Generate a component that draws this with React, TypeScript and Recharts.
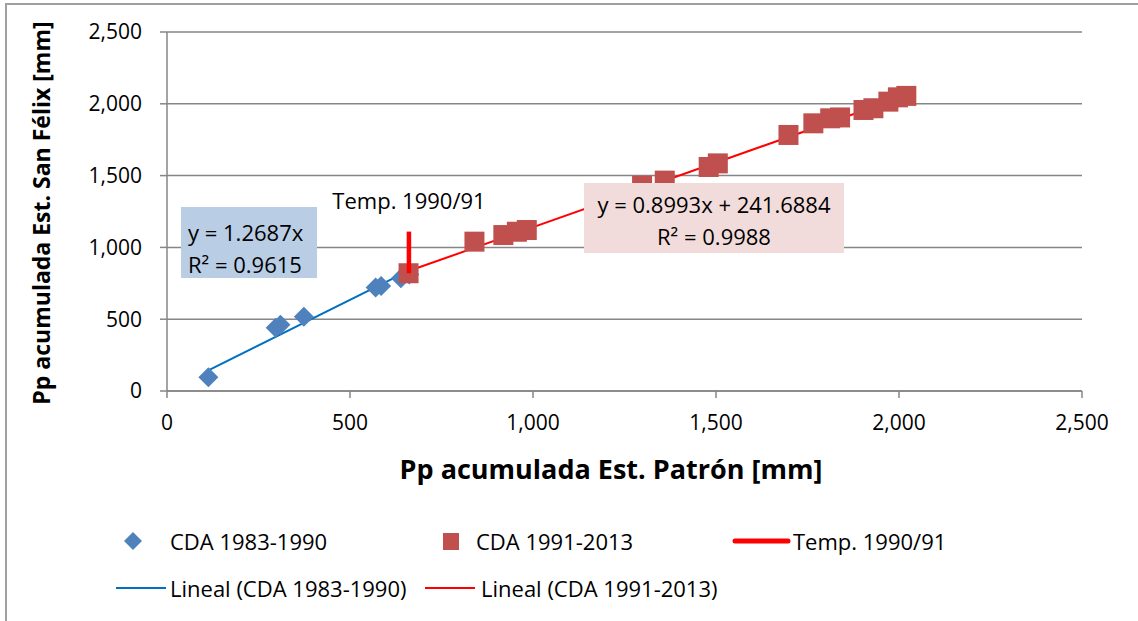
import React from 'react';
import { ScatterChart, Scatter, XAxis, YAxis, CartesianGrid } from 'recharts';

// CDA 1983-1990 (blue diamonds)
const cda8390X = [113, 297, 310, 374, 570, 585, 639, 662];
const cda8390Y = [95, 440, 462, 517, 720, 732, 785, 812];

// CDA 1991-2013 (red squares)
const cda9113X = [660, 840, 919, 956, 983, 1298, 1360, 1480, 1505, 1698, 1766, 1812, 1839, 1903, 1930, 1971, 1997, 2020];
const cda9113Y = [820, 1040, 1086, 1109, 1121, 1430, 1465, 1560, 1585, 1783, 1864, 1899, 1905, 1957, 1969, 2015, 2045, 2055];

// Temp. 1990/91 marker line
const tempX = [661, 661];
const tempY = [820, 1110];

// linear fits (slope, intercept)
const fit8390 = [1.2687, 0];
const fit9113 = [0.8993, 241.6884];

const ticks = [0, 500, 1000, 1500, 2000, 2500];

const font = '"Open Sans", sans-serif';
const BLUE = '#4f81bd';
const RED = '#c0504d';

const zip = (xs: number[], ys: number[]) => xs.map((x, i) => ({ x, y: ys[i] }));
const fitLine = (xs: number[], f: number[]) => {
  const lo = Math.min(...xs);
  const hi = Math.max(...xs);
  return [
    { x: lo, y: f[0] * lo + f[1] },
    { x: hi, y: f[0] * hi + f[1] },
  ];
};

const diamond = (p: any) => (
  <polygon
    points={`${p.cx},${p.cy - 10} ${p.cx + 10},${p.cy} ${p.cx},${p.cy + 10} ${p.cx - 10},${p.cy}`}
    fill={BLUE}
  />
);
const square = (p: any) => <rect x={p.cx - 10} y={p.cy - 10} width={20} height={20} fill={RED} />;
const none = () => <g />;

const fmt = (v: number) => v.toLocaleString('en-US');

const txt: React.CSSProperties = { position: 'absolute', fontFamily: font, fontSize: 22, color: '#000', whiteSpace: 'nowrap', lineHeight: 1 };

export default function App() {
  return (
    <div
      style={{
        position: 'absolute',
        left: 5,
        top: 3,
        width: 1133,
        height: 618,
        borderLeft: '2px solid #a0a0a0',
        borderTop: '2px solid #a0a0a0',
        boxSizing: 'border-box',
        overflow: 'hidden',
        background: '#fff',
      }}
    >
      <div style={{ position: 'absolute', left: -1, top: -1 }}>
        <ScatterChart width={1130} height={500} margin={{ top: 28, right: 54, bottom: 0, left: 0 }}>
          <CartesianGrid vertical={false} stroke="#868686" strokeWidth={1.5} />
          <XAxis
            type="number"
            dataKey="x"
            domain={[0, 2500]}
            ticks={ticks}
            tickFormatter={fmt}
            height={113}
            stroke="#868686"
            strokeWidth={1.5}
            tickSize={7}
            tickMargin={17}
            tick={{ fill: '#000', fontSize: 21, fontFamily: font }}
          />
          <YAxis
            type="number"
            dataKey="y"
            domain={[0, 2500]}
            ticks={ticks}
            tickFormatter={fmt}
            width={161}
            stroke="#868686"
            strokeWidth={1.5}
            tickSize={7}
            tickMargin={18}
            tick={{ fill: '#000', fontSize: 21, fontFamily: font }}
          />
          <Scatter data={fitLine(cda8390X, fit8390)} line={{ stroke: '#0070c0', strokeWidth: 2 }} shape={none} isAnimationActive={false} />
          <Scatter data={fitLine(cda9113X, fit9113)} line={{ stroke: '#ff0000', strokeWidth: 2 }} shape={none} isAnimationActive={false} />
          <Scatter data={zip(cda8390X, cda8390Y)} shape={diamond} isAnimationActive={false} />
          <Scatter data={zip(cda9113X, cda9113Y)} shape={square} isAnimationActive={false} />
          <Scatter data={zip(tempX, tempY)} line={{ stroke: '#ff0000', strokeWidth: 4.5 }} shape={none} isAnimationActive={false} />
        </ScatterChart>
      </div>

      {/* axis titles */}
      <div style={{ ...txt, fontWeight: 700, fontSize: 27, left: 604, top: 463, transform: 'translate(-50%, -50%)' }}>
        Pp acumulada Est. Patrón [mm]
      </div>
      <div style={{ ...txt, fontWeight: 700, fontSize: 23, left: 34, top: 208, transform: 'translate(-50%, -50%) rotate(-90deg)' }}>
        Pp acumulada Est. San Félix [mm]
      </div>

      {/* trend equations */}
      <div style={{ position: 'absolute', left: 174, top: 202, width: 136, height: 71, background: '#b9cde5' }}>
        <div style={{ ...txt, left: 7, top: 14 }}>y = 1.2687x</div>
        <div style={{ ...txt, left: 7, top: 46 }}>R² = 0.9615</div>
      </div>
      <div style={{ position: 'absolute', left: 577, top: 178, width: 260, height: 70, background: '#f2dcdb' }}>
        <div style={{ ...txt, left: 0, width: 260, textAlign: 'center', top: 10 }}>y = 0.8993x + 241.6884</div>
        <div style={{ ...txt, left: 0, width: 260, textAlign: 'center', top: 42 }}>R² = 0.9988</div>
      </div>
      <div style={{ ...txt, left: 402, top: 195, transform: 'translate(-50%, -50%)' }}>Temp. 1990/91</div>

      {/* legend */}
      <svg style={{ position: 'absolute', left: -1, top: -1 }} width={1130} height={618}>
        <polygon points="127,528 136,537 127,546 118,537" fill={BLUE} />
        <rect x={437} y={529} width={16} height={17} fill={RED} />
        <line x1={729} y1={537} x2={782} y2={537} stroke="#ff0000" strokeWidth={5} strokeLinecap="round" />
        <line x1={110} y1={584} x2={160} y2={584} stroke="#0070c0" strokeWidth={2} />
        <line x1={419} y1={584} x2={469} y2={584} stroke="#ff0000" strokeWidth={2} />
      </svg>
      <div style={{ ...txt, left: 163, top: 525 }}>CDA 1983-1990</div>
      <div style={{ ...txt, left: 469, top: 525 }}>CDA 1991-2013</div>
      <div style={{ ...txt, left: 786, top: 525 }}>Temp. 1990/91</div>
      <div style={{ ...txt, left: 163, top: 572 }}>Lineal (CDA 1983-1990)</div>
      <div style={{ ...txt, left: 474, top: 572 }}>Lineal (CDA 1991-2013)</div>
    </div>
  );
}
